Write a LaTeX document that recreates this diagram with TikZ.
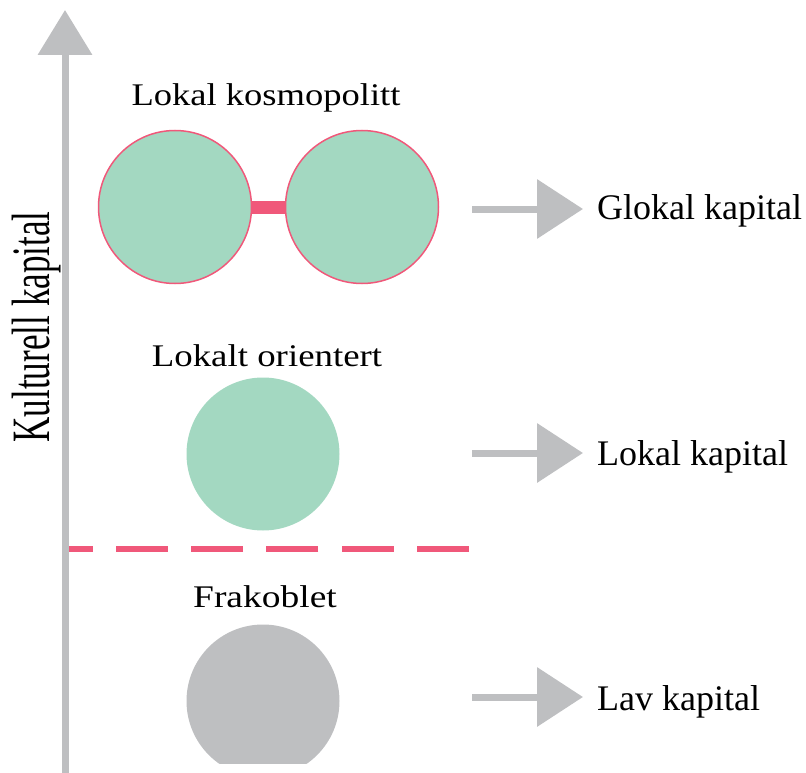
\documentclass[tikz,border=0pt]{standalone}
\usepackage{fontspec}
\setmainfont{Liberation Serif}
\usetikzlibrary{arrows.meta}
\definecolor{mint}{RGB}{163,216,193}
\definecolor{rose}{RGB}{240,88,122}
\definecolor{greyax}{RGB}{190,191,193}
\begin{document}
\begin{tikzpicture}[x=1pt,y=-1pt,
  blob/.style={circle,inner sep=0pt,minimum size=153pt,fill=mint},
  ringblob/.style={blob,draw=rose,line width=1.5pt},
  leftlab/.style={anchor=base,inner sep=0pt,font=\fontsize{31.5}{36}\selectfont},
  rightlab/.style={anchor=base west,inner sep=0pt,font=\fontsize{36}{40}\selectfont},
  greyarrow/.style={draw=greyax,line width=7pt,-{Triangle[length=46pt 0 0,width=58pt 0 0]}},
  axisarrow/.style={draw=greyax,line width=7pt,-{Triangle[length=45pt 0 0,width=53pt 0 0]}}]
\useasboundingbox (0,0) rectangle (806,773);
% axis
\coordinate (axbot) at (65,773);
\coordinate (axtop) at (65,10);
\draw[axisarrow] (axbot) -- (axtop);
\node[rotate=90,anchor=base,inner sep=0pt,font=\fontsize{54}{60}\selectfont] (ylab) at (49,327) {\scalebox{0.65}[1]{Kulturell kapital}};
% top pair
\node[ringblob] (c1) at (175,207) {};
\node[ringblob] (c2) at (362,207) {};
\draw[rose,line width=13pt] (c1.east) -- (c2.west);
\node[leftlab] (l1) at (266,106) {\scalebox{1.16}[1]{Lokal kosmopolitt}};
% middle
\node[blob] (c3) at (263,454) {};
\node[leftlab] (l2) at (267,366) {\scalebox{1.17}[1]{Lokalt orientert}};
% dashed line
\coordinate (dR) at (469,549);
\coordinate (dL) at (69,549);
\draw[rose,line width=6pt,dash pattern=on 52pt off 23.3pt] (dR) -- (dL);
% bottom
\begin{scope}
\clip (0,0) rectangle (806,763);
\node[blob,fill=greyax] (c4) at (263,701) {};
\end{scope}
\node[leftlab] (l3) at (265,607) {\scalebox{1.19}[1]{Frakoblet}};
% right arrows
\coordinate (a1s) at (472,209); \coordinate (a1e) at (583,209);
\coordinate (a2s) at (472,453); \coordinate (a2e) at (583,453);
\coordinate (a3s) at (472,697); \coordinate (a3e) at (583,697);
\draw[greyarrow] (a1s) -- (a1e);
\draw[greyarrow] (a2s) -- (a2e);
\draw[greyarrow] (a3s) -- (a3e);
\node[rightlab] (r1) at (597,219) {Glokal kapital};
\node[rightlab] (r2) at (597,465) {Lokal kapital};
\node[rightlab] (r3) at (597,710) {Lav kapital};
\end{tikzpicture}
\end{document}
